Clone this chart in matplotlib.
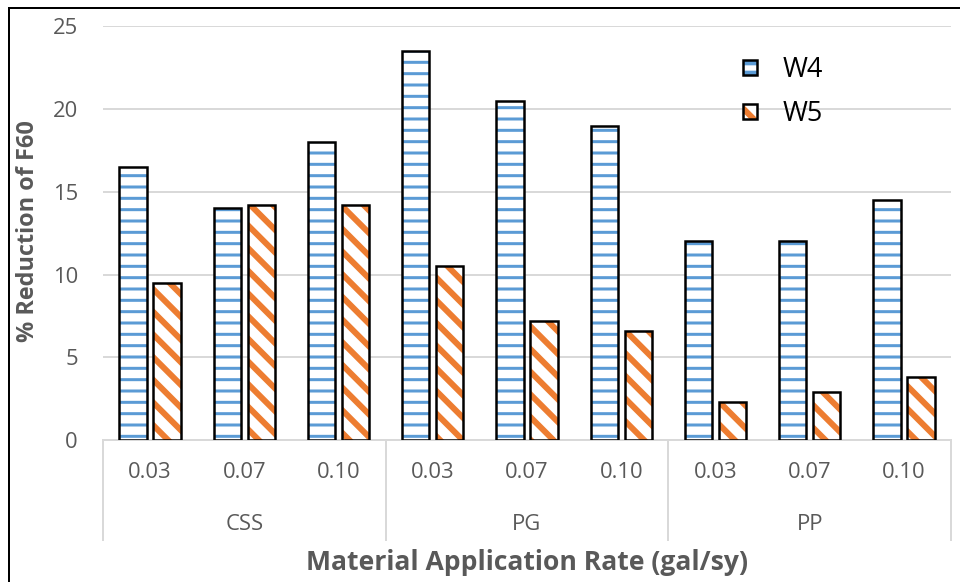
import numpy as np
import matplotlib.pyplot as plt
import matplotlib.patches as mpatches
import matplotlib.transforms as mtransforms
from matplotlib.legend_handler import HandlerTuple

groups = ['CSS', 'PG', 'PP']
rates = ['0.03', '0.07', '0.10']
w4 = [16.5, 14.0, 18.0, 23.5, 20.5, 19.0, 12.0, 12.0, 14.5]
w5 = [9.5, 14.2, 14.2, 10.5, 7.2, 6.6, 2.3, 2.9, 3.8]

DPI = 136
px = 72 / DPI  # one pixel in points

plt.rcParams['font.family'] = ['Open Sans', 'DejaVu Sans']

fig = plt.figure(figsize=(960 / DPI, 582 / DPI), dpi=DPI)
ax = fig.add_axes([103 / 960, 1 - 440 / 582, 848 / 960, (440 - 26.3) / 582])

x = np.arange(len(w4))
width = 0.29
off = 0.18
blue = '#5B9BD5'
orange = '#ED7D31'
grey = '#595959'


def hatched_bars(xs, vals, color, hatch, hlw):
    plt.rcParams['hatch.linewidth'] = hlw
    fill = ax.bar(xs, vals, width, color='white', edgecolor=color, hatch=hatch,
                  linewidth=0, zorder=2)
    for p in fill:
        if hasattr(p, 'set_hatch_linewidth'):
            p.set_hatch_linewidth(hlw)
    outline = ax.bar(xs, vals, width, fill=False, edgecolor='black',
                     linewidth=2.5 * px, zorder=3)
    return fill, outline


f4, o4 = hatched_bars(x - off, w4, blue, '--', 3 * px)
f5, o5 = hatched_bars(x + off, w5, orange, '\\\\', 6 * px)

ax.set_xlim(-0.5, len(w4) - 0.5)
ax.set_ylim(0, 25)
ax.set_yticks(np.arange(0, 26, 5))
ax.yaxis.grid(True, color='#D9D9D9', linewidth=2 * px, zorder=0)
ax.set_axisbelow(True)
for s in ['left', 'right', 'top']:
    ax.spines[s].set_visible(False)
ax.spines['bottom'].set_color('#D9D9D9')
ax.spines['bottom'].set_linewidth(2 * px)
ax.spines['bottom'].set_zorder(1)

ax.tick_params(axis='y', length=0, pad=25 * px, labelsize=22 * px, labelcolor=grey)
ax.set_xticks(x)
ax.set_xticklabels(rates * len(groups))
ax.tick_params(axis='x', length=0, pad=22 * px, labelsize=22 * px, labelcolor=grey)

# group labels and separators under the axis
trans = mtransforms.blended_transform_factory(ax.transData, ax.transAxes)
ah = 440 - 26.3
n = len(rates)
for i, g in enumerate(groups):
    ax.text(i * n + (n - 1) / 2, -85 / ah, g, transform=trans, ha='center',
            va='center', fontsize=22 * px, color=grey)
for i in range(len(groups) + 1):
    xb = i * n - 0.5
    ax.plot([xb, xb], [0, -100 / ah], transform=trans, color='#D9D9D9',
            linewidth=2 * px, clip_on=False)

fig.text(28 / 960, 1 - 231 / 582, '% Reduction of F60', rotation=90, ha='center',
         va='center', fontsize=23.5 * px, fontweight='bold', color=grey)
fig.text(527 / 960, 1 - 563 / 582, 'Material Application Rate (gal/sy)', ha='center',
         va='center', fontsize=26.5 * px, fontweight='bold', color=grey)

ax.legend([(f4[0], o4[0]), (f5[0], o5[0])], ['W4', 'W5'],
          handler_map={tuple: HandlerTuple(ndivide=1)},
          loc='upper left', bbox_to_anchor=((743 - 103) / 848, 1 - (56 - 26.3) / ah),
          frameon=False, fontsize=27 * px, handlelength=0.5, handleheight=0.5,
          handletextpad=0.95, labelspacing=0.6, borderpad=0, borderaxespad=0)

fig.patches.append(mpatches.Rectangle((9 / 960, -0.1), 1.2, 1.1 - 8 / 582,
                                      transform=fig.transFigure, fill=False,
                                      edgecolor='black', linewidth=2 * px))

fig.savefig('out.png', dpi=DPI)
